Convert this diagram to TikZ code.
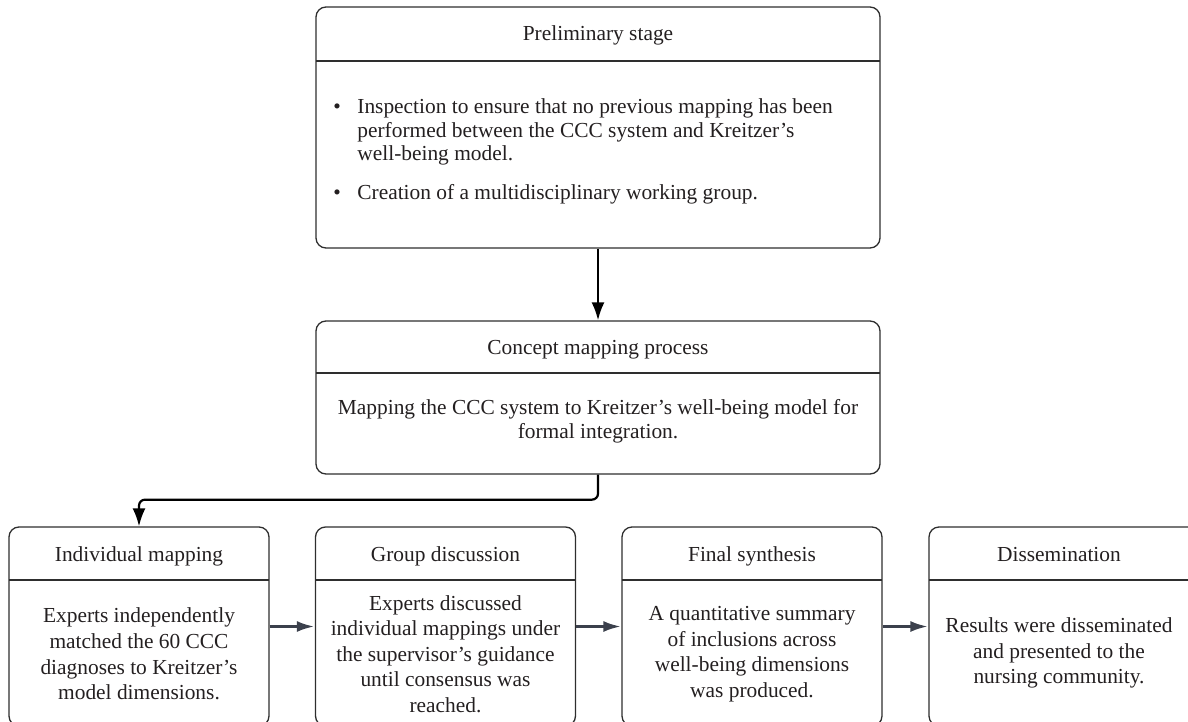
\documentclass[tikz,border=0pt]{standalone}
\usepackage{fontspec}
\setmainfont{Liberation Serif}
\usetikzlibrary{arrows.meta}
\definecolor{boxline}{HTML}{2E2E2E}
\definecolor{arr}{HTML}{3B404C}
\definecolor{txt}{HTML}{231F20}
\begin{document}
\begin{tikzpicture}[x=0.5pt,y=-0.5pt,
  box/.style={draw=boxline, line width=0.65pt, rounded corners=5pt, inner sep=0pt},
  divline/.style={draw=boxline, line width=0.65pt},
  hd/.style={text=txt, inner sep=0pt, anchor=base, font=\fontsize{10.7pt}{12pt}\selectfont},
  bodytxt/.style={text=txt, inner sep=0pt, align=center, font=\fontsize{10.7pt}{12.8pt}\selectfont},
  varrow/.style={draw=black, line width=1.1pt, -{Latex[length=9pt,width=6.5pt]}},
  harrow/.style={draw=arr, line width=1.6pt, -{Latex[length=9pt,width=5.5pt]}}]
\useasboundingbox (0,0) rectangle (1188,722);
\clip (0,0) rectangle (1188,722);
% boxes
\node[box, minimum width=282pt, minimum height=120.5pt] (pre) at (598,127.5) {};
\node[box, minimum width=282pt, minimum height=76.5pt] (con) at (598,397.5) {};
\node[box, minimum width=130pt, minimum height=99.5pt] (b1) at (139,626.5) {};
\node[box, minimum width=130pt, minimum height=99.5pt] (b2) at (445.5,626.5) {};
\node[box, minimum width=130pt, minimum height=99.5pt] (b3) at (752,626.5) {};
\node[box, minimum width=145pt, minimum height=99.5pt] (b4) at (1074,626.5) {};
% dividers
\draw[divline] (316,61) -- (880,61);
\draw[divline] (316,373) -- (880,373);
\draw[divline] (9,580) -- (269,580);
\draw[divline] (316,580) -- (575,580);
\draw[divline] (622,580) -- (882,580);
\draw[divline] (929,580) -- (1219,580);
% headers
\node[hd] (preh) at (598,41) {Preliminary stage};
\node[hd] (conh) at (598,354) {Concept mapping process};
\node[hd] (b1h) at (139,561) {Individual mapping};
\node[hd] (b2h) at (445.5,561) {Group discussion};
\node[hd] (b3h) at (752,561) {Final synthesis};
\node[hd] (b4h) at (1059,561) {Dissemination};
% bodies
\node[text=txt, inner sep=0pt, anchor=base west, font=\fontsize{10.7pt}{12pt}\selectfont] (preb) at (333,113)
  {\begin{tabular}[t]{@{}p{12pt}@{}l@{}}
  \textbullet & Inspection to ensure that no previous mapping has been\\
   & performed between the CCC system and Kreitzer’s\\
   & well-being model.\\[7.5pt]
  \textbullet & Creation of a multidisciplinary working group.
  \end{tabular}};
\node[text=txt, inner sep=0pt, align=center, font=\fontsize{10.7pt}{12pt}\selectfont] (conb) at (598,421)
  {Mapping the CCC system to Kreitzer’s well-being model for\\formal integration.};
\node[bodytxt] (b1b) at (139,654) {Experts independently\\matched the 60 CCC\\diagnoses to Kreitzer’s\\model dimensions.};
\node[bodytxt] (b2b) at (445.5,654) {Experts discussed\\individual mappings under\\the supervisor’s guidance\\until consensus was\\reached.};
\node[bodytxt] (b3b) at (752,654) {A quantitative summary\\of inclusions across\\well-being dimensions\\was produced.};
\node[bodytxt] (b4b) at (1059,653) {Results were disseminated\\and presented to the\\nursing community.};
% connectors
\draw[varrow] (pre.south) -- (con.north);
\draw[varrow, rounded corners=3pt] (con.south) -- ++(0,25) -| (b1.north);
\draw[harrow] (b1.east) -- (b2.west);
\draw[harrow] (b2.east) -- (b3.west);
\draw[harrow] (b3.east) -- (b4.west);
\end{tikzpicture}
\end{document}
